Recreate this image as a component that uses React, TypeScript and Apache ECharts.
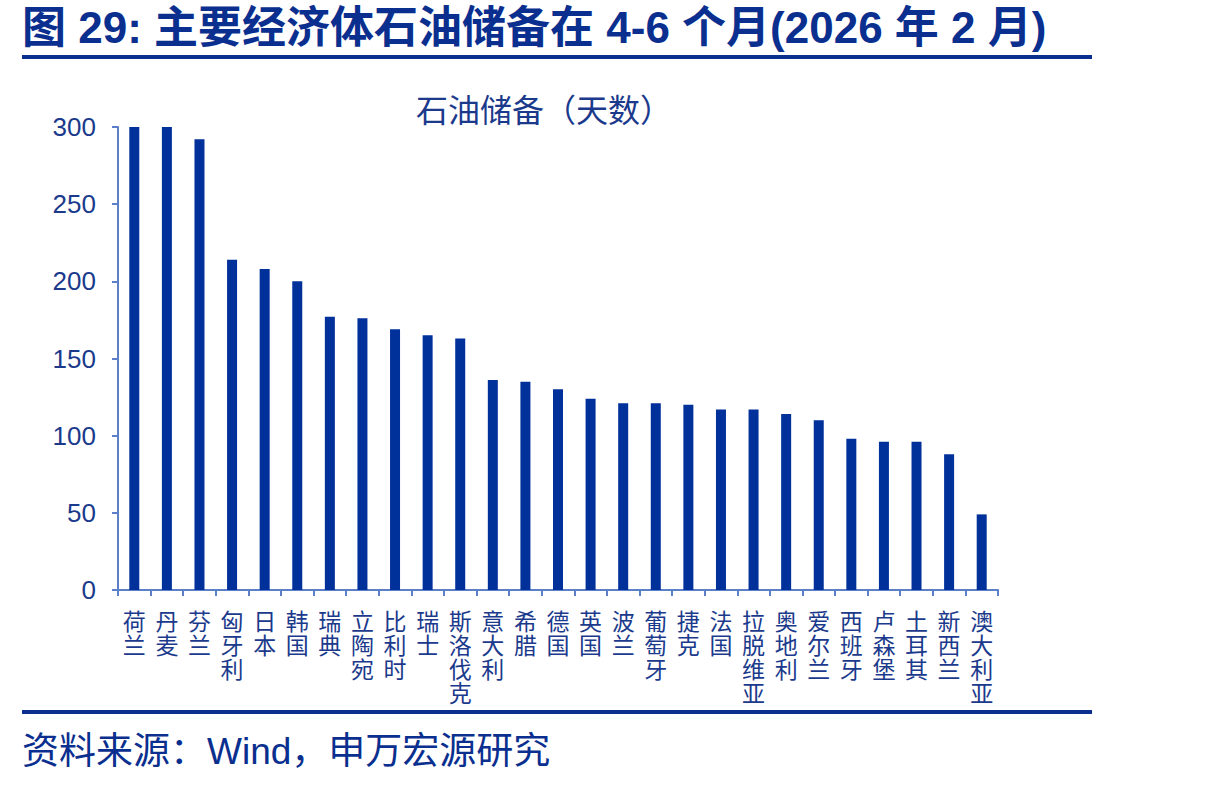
import React, { useEffect, useRef } from "react";
import * as echarts from "echarts";

const categories = ["荷兰","丹麦","芬兰","匈牙利","日本","韩国","瑞典","立陶宛","比利时","瑞士","斯洛伐克","意大利","希腊","德国","英国","波兰","葡萄牙","捷克","法国","拉脱维亚","奥地利","爱尔兰","西班牙","卢森堡","土耳其","新西兰","澳大利亚"];
const reserveDays = [300,300,292,214,208,200,177,176,169,165,163,136,135,130,124,121,121,120,117,117,114,110,98,96,96,88,49];
const yTicks = [0, 300, 50];

const titleText = "图 29: 主要经济体石油储备在 4-6 个月(2026 年 2 月)";
const chartTitle = "石油储备（天数）";
const sourceText = "资料来源：Wind，申万宏源研究";

const FONT = "'Liberation Sans', Arial, 'Noto Sans CJK SC', sans-serif";
const BLUE = "#00309A";
const TEXT_BLUE = "#1B3A8C";
const AXIS_BLUE = "#5B7FC8";

export default function App() {
  const ref = useRef<HTMLDivElement>(null);
  useEffect(() => {
    document.body.style.margin = "0";
    const chart = echarts.init(ref.current!, null, { renderer: "svg" });
    chart.setOption({
      animation: false,
      backgroundColor: "#ffffff",
      grid: { left: 118, right: 214, top: 127, bottom: 197, containLabel: false },
      title: {
        text: chartTitle,
        left: 539,
        top: 90,
        textAlign: "center",
        textStyle: { color: TEXT_BLUE, fontSize: 32, fontWeight: "normal", fontFamily: FONT },
      },
      graphic: [
        {
          type: "text",
          left: 22,
          top: 5,
          style: { text: titleText, fill: "#0A2F8F", font: `bold 44px ${FONT}` },
        },
        { type: "rect", shape: { x: 22, y: 55, width: 1070, height: 4 }, style: { fill: "#0A2F8F" } },
        { type: "rect", shape: { x: 22, y: 710, width: 1070, height: 4 }, style: { fill: "#0A2F8F" } },
        {
          type: "text",
          left: 22,
          top: 733,
          style: { text: sourceText, fill: "#0A2F8F", font: `37px ${FONT}` },
        },
      ],
      xAxis: {
        type: "category",
        data: categories,
        boundaryGap: true,
        axisLine: { show: true, lineStyle: { color: AXIS_BLUE, width: 2 } },
        axisTick: { show: true, alignWithLabel: false, length: 6, lineStyle: { color: AXIS_BLUE, width: 2 } },
        axisLabel: {
          interval: 0,
          margin: 20,
          color: TEXT_BLUE,
          fontSize: 23,
          lineHeight: 24,
          fontFamily: FONT,
          formatter: (v: string) => v.split("").join("\n"),
        },
      },
      yAxis: {
        type: "value",
        min: yTicks[0],
        max: yTicks[1],
        interval: yTicks[2],
        splitLine: { show: false },
        axisLine: { show: true, lineStyle: { color: AXIS_BLUE, width: 2 } },
        axisTick: { show: true, length: 6, lineStyle: { color: AXIS_BLUE, width: 2 } },
        axisLabel: { color: TEXT_BLUE, fontSize: 26, fontFamily: FONT, margin: 22 },
      },
      series: [
        {
          type: "bar",
          data: reserveDays,
          barWidth: 10,
          itemStyle: { color: BLUE },
        },
      ],
    });
    return () => chart.dispose();
  }, []);
  return <div ref={ref} style={{ width: 1212, height: 787 }} />;
}
